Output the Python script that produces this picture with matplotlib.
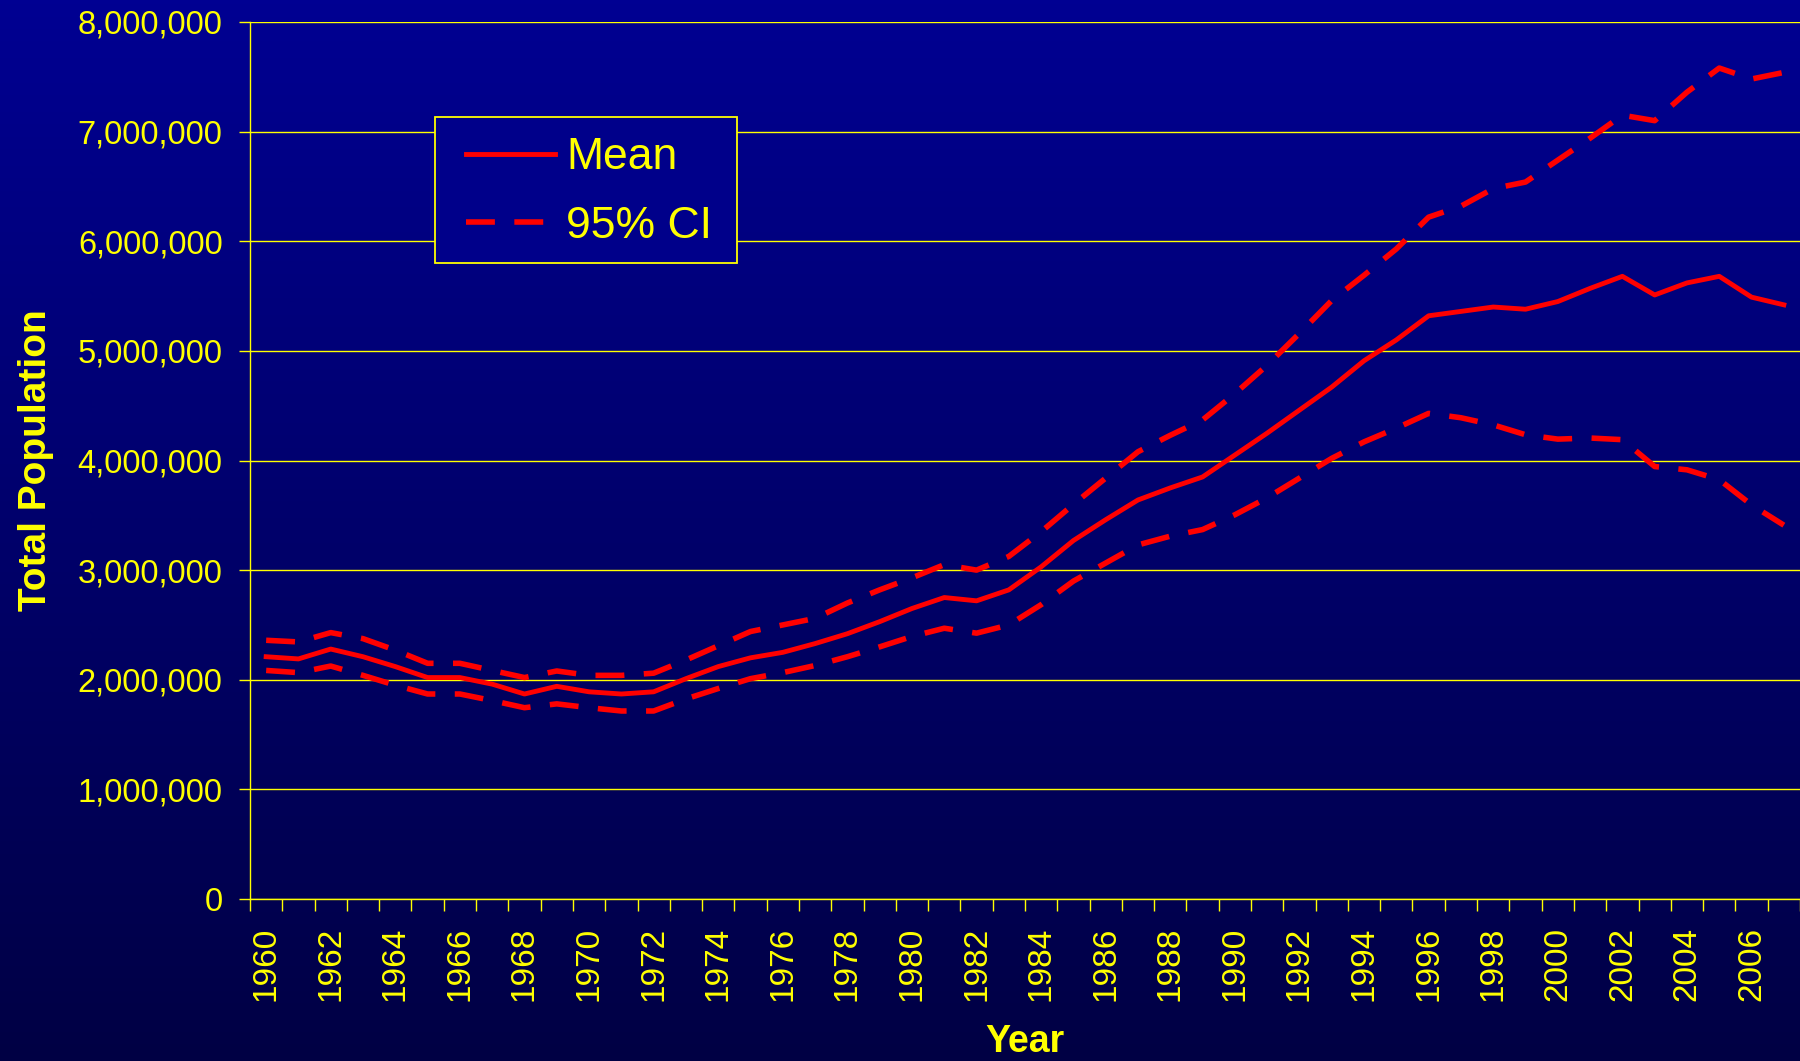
import matplotlib
matplotlib.use('Agg')
import matplotlib.pyplot as plt
import numpy as np
from matplotlib.patches import Rectangle
from matplotlib.ticker import FuncFormatter, FixedLocator

# --------------------------------------------------------------------------------

years = list(range(1960, 2008))

# values in millions
mean_pop = [2.21, 2.19, 2.28, 2.21, 2.12, 2.02, 2.02, 1.96, 1.87, 1.94,
            1.89, 1.87, 1.89, 2.01, 2.12, 2.20, 2.25, 2.33, 2.42, 2.53,
            2.65, 2.75, 2.72, 2.82, 3.03, 3.27, 3.46, 3.64, 3.75, 3.85,
            4.05, 4.25, 4.46, 4.67, 4.91, 5.10, 5.32, 5.36, 5.40, 5.38,
            5.45, 5.57, 5.68, 5.51, 5.62, 5.68, 5.49, 5.42]

upper_ci = [2.36, 2.345, 2.43, 2.375, 2.27, 2.15, 2.15, 2.085, 2.02, 2.08,
            2.04, 2.04, 2.06, 2.18, 2.31, 2.44, 2.50, 2.56, 2.70, 2.82,
            2.93, 3.05, 3.00, 3.125, 3.35, 3.60, 3.84, 4.08, 4.23, 4.37,
            4.61, 4.87, 5.16, 5.46, 5.69, 5.93, 6.22, 6.32, 6.48, 6.54,
            6.74, 6.94, 7.15, 7.10, 7.36, 7.58, 7.48, 7.54]

lower_ci = [2.085, 2.065, 2.125, 2.04, 1.95, 1.87, 1.87, 1.81, 1.745, 1.78,
            1.745, 1.715, 1.715, 1.825, 1.92, 2.01, 2.065, 2.13, 2.21, 2.30,
            2.395, 2.47, 2.425, 2.50, 2.685, 2.90, 3.065, 3.23, 3.31, 3.37,
            3.505, 3.66, 3.84, 4.02, 4.17, 4.295, 4.43, 4.39, 4.325, 4.235,
            4.195, 4.205, 4.19, 3.945, 3.915, 3.825, 3.595, 3.41]

yticks = [0, 1e6, 2e6, 3e6, 4e6, 5e6, 6e6, 7e6, 8e6]

# --------------------------------------------------------------------------------

yellow = '#FFFF00'
red = '#FF0000'
plt.rcParams['font.family'] = ['Liberation Sans', 'DejaVu Sans']

W, H = 1800, 1061
fig = plt.figure(figsize=(W / 100, H / 100), dpi=100)

# gradient background over the whole figure
bg = fig.add_axes([0, 0, 1, 1], zorder=-10)
grad = np.linspace(0, 1, 256).reshape(-1, 1)
top = np.array([0, 0, 146]) / 255.0
bot = np.array([0, 0, 68]) / 255.0
img = top[None, None, :] * (1 - grad[:, :, None]) + bot[None, None, :] * grad[:, :, None]
bg.imshow(img, aspect='auto', extent=[0, 1, 0, 1])
bg.axis('off')

ax = fig.add_axes([250 / W, 1 - 899 / H, 1550 / W, (899 - 22) / H])
ax.set_facecolor('none')

x = np.arange(len(years))
m = np.array(mean_pop) * 1e6
u = np.array(upper_ci) * 1e6
lo = np.array(lower_ci) * 1e6

dash = (0, (5.2, 3.5))
ax.plot(x, m, '-', color=red, lw=3.5, label='Mean', zorder=5)
ax.plot(x, u, color=red, lw=4.0, linestyle=dash, label='95% CI', zorder=5)
ax.plot(x, lo, color=red, lw=4.0, linestyle=dash, zorder=5)

ax.set_xlim(-0.5, len(years) - 0.5)
ax.set_ylim(0, 8e6)

# --------------------------------------------------------------------------------

ax.set_yticks(yticks)
ax.yaxis.set_major_formatter(FuncFormatter(lambda v, p: '{:,.0f}'.format(v)))
ax.tick_params(axis='y', colors=yellow, labelsize=23.5, length=7.7, width=1, pad=12)

ax.xaxis.set_major_locator(FixedLocator(x[::2]))
ax.set_xticklabels([str(y) for y in years[::2]], rotation=90)
ax.xaxis.set_minor_locator(FixedLocator(np.arange(-0.5, len(years), 1.0)))
ax.tick_params(axis='x', which='major', colors=yellow, labelsize=24, length=0, pad=20)
ax.tick_params(axis='x', which='minor', colors=yellow, length=8.6, width=1)

ax.grid(True, axis='y', color=yellow, lw=1.0)
ax.set_axisbelow(True)

for s in ['top', 'right']:
    ax.spines[s].set_visible(False)
for s in ['left', 'bottom']:
    ax.spines[s].set_color(yellow)
    ax.spines[s].set_linewidth(1.0)

fig.text(36 / W, 1 - 460 / H, 'Total Population', rotation=90, color=yellow,
         fontsize=28, fontweight='bold', ha='center', va='center')
fig.text(1025 / W, 1 - 1042 / H, 'Year', color=yellow,
         fontsize=27, fontweight='bold', ha='center', va='center')

# legend: frame drawn as a separate box so the padding matches
box = Rectangle((435 / W, 1 - 263 / H), (737 - 435) / W, (263 - 117) / H,
                transform=fig.transFigure, facecolor='#00008A', edgecolor=yellow,
                lw=1.3, zorder=6)
ax.add_patch(box)
box.set_clip_on(False)

leg = ax.legend(loc='center left', bbox_to_anchor=(466 / W, 1 - 192 / H),
                bbox_transform=fig.transFigure, borderaxespad=0, borderpad=0,
                fontsize=32, handlelength=2.0, handletextpad=0.25,
                labelspacing=0.62, frameon=False)
leg.set_zorder(7)
for t in leg.get_texts():
    t.set_color(yellow)

fig.savefig('out.png', dpi=100)
